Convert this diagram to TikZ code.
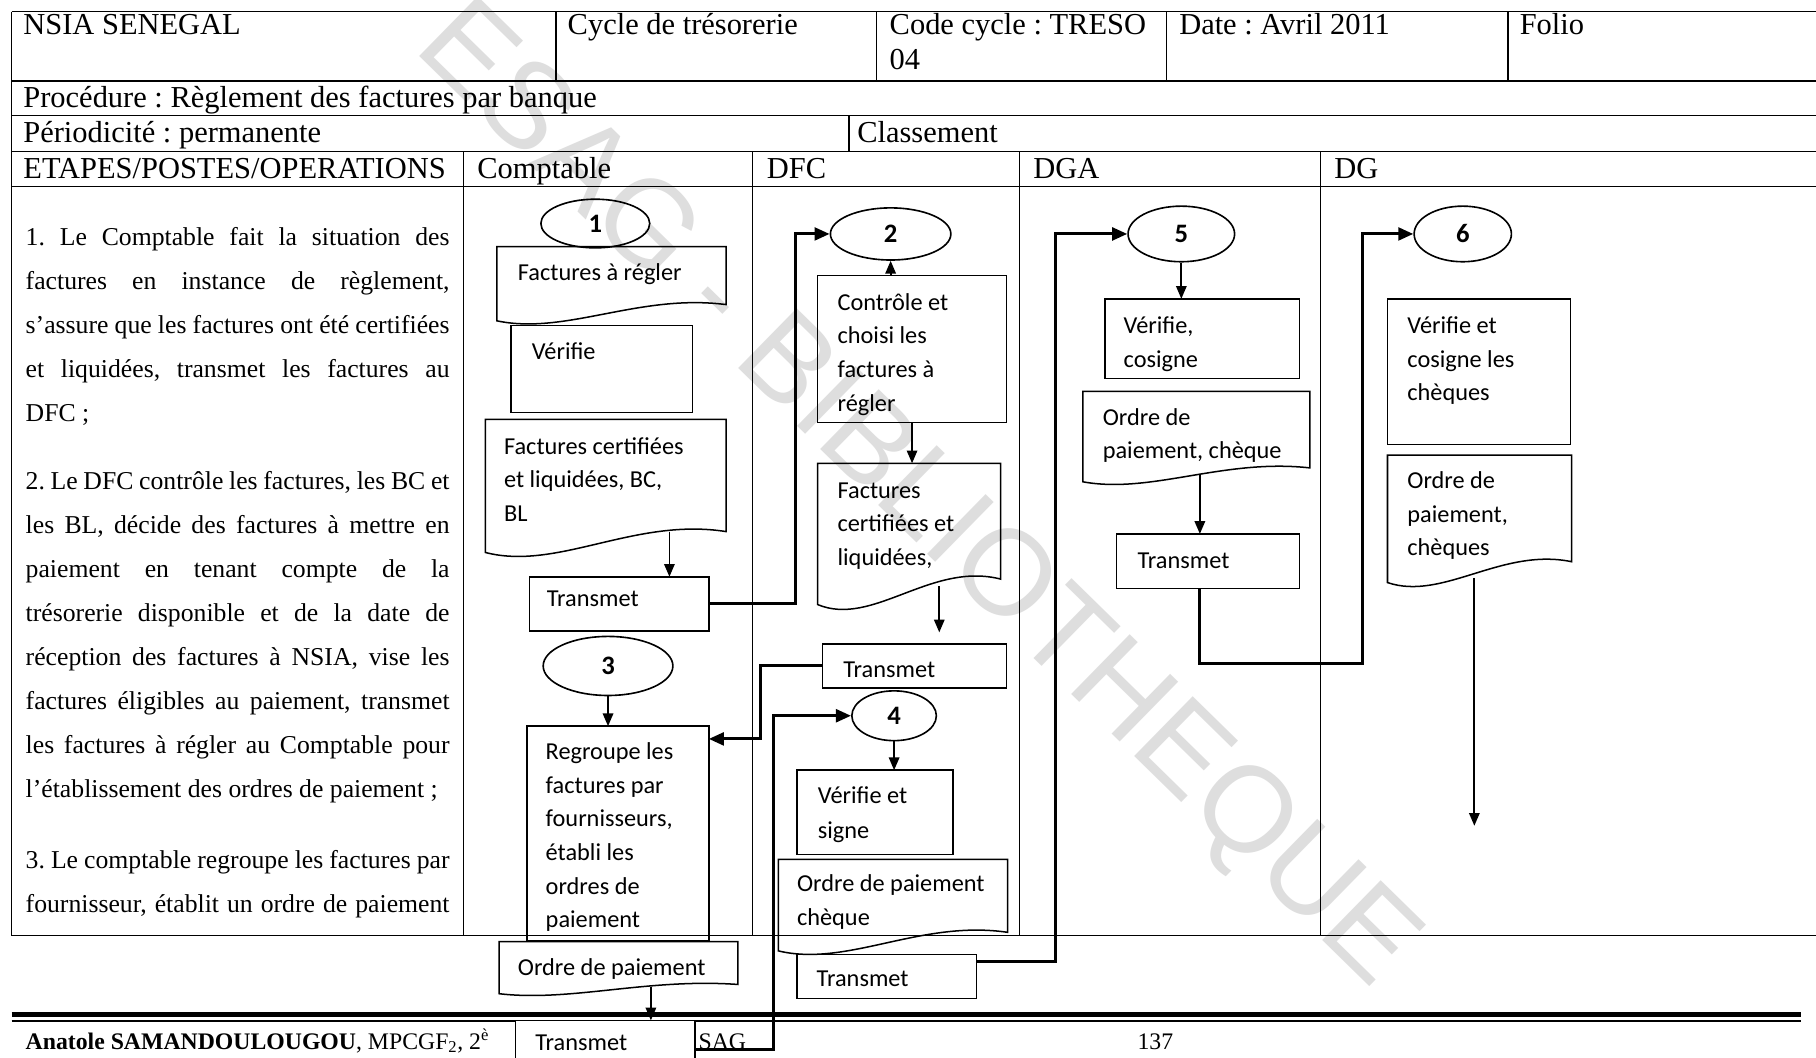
\documentclass[tikz,border=0pt]{standalone}
\usepackage{fontspec}
\setmainfont{Liberation Serif}
\newfontfamily\boxfont{Carlito}
\newfontfamily\wmfont{Liberation Sans}
\usetikzlibrary{shapes.geometric,arrows.meta,calc}
\frenchspacing

\definecolor{wmgray}{RGB}{222,222,222}

% multi-line cell text, aligned on the first baseline
\newcommand\tl[1]{\begin{tabular}[t]{@{}l@{}}#1\end{tabular}}
% one justified line of the step description
\newcommand\jl[1]{\makebox[366pt][s]{#1}}

\tikzset{
  grid/.style={line width=1.1pt, black},
  hdr/.style={font=\fontsize{26.3}{30}\selectfont, anchor=base west, inner sep=0pt},
  steptxt/.style={font=\fontsize{22.2}{38}\selectfont, anchor=base west, inner sep=0pt},
  pshape/.style={draw, line width=1.3pt, rectangle, inner sep=0pt, outer sep=0pt},
  dshape/.style={rectangle, inner sep=0pt, outer sep=0pt},
  docline/.style={line width=1.3pt, line join=miter},
  btxt/.style={font=\boxfont\fontsize{21}{29}\selectfont, anchor=base west, inner sep=0pt},
  stepnum/.style={draw, ellipse, line width=1.4pt, inner sep=0pt,
    font=\boxfont\bfseries\fontsize{23}{26}\selectfont},
  flow/.style={line width=2.6pt, -{Triangle[length=13pt,width=11pt]}},
  arr/.style={line width=1.5pt, -{Triangle[length=11pt,width=9pt]}},
  foot/.style={font=\fontsize{20.5}{24}\selectfont, anchor=base west, inner sep=0pt},
  wmark/.style={font=\wmfont\fontsize{105}{110}\selectfont, text=wmgray, inner sep=0pt},
}

% process box from its two corners
\newcommand\procbox[5]{%
  \node[pshape, anchor=north west, minimum width={(#4-#2)*1pt},
        minimum height={(#5-#3)*1pt}] (#1) at (#2,#3) {};}
% document box: wavy bottom, right end raised by #6
\newcommand\docbox[6]{%
  \node[dshape, anchor=north west, minimum width={(#4-#2)*1pt},
        minimum height={(#5-#3)*1pt}] (#1) at (#2,#3) {};
  \draw[docline] (#1.south west) -- (#1.north west) -- (#1.north east)
    -- ($(#1.south east)+(0,-#6)$)
    .. controls ($(#1.south west)!0.62!(#1.south east)+(0,-1.7*#6)$)
           and ($(#1.south west)!0.3!(#1.south east)+(0,0.9*#6)$)
    .. (#1.south west) -- cycle;}

\begin{document}
\begin{tikzpicture}[x=1pt,y=-1pt]
\useasboundingbox (0,0) rectangle (1568,913);
\fill[white] (0,0) rectangle (1568,913);
\clip (0,0) rectangle (1568,913);

% watermark
\node[wmark, rotate=-44.4] (wm) at (790,430) {ESAG - BIBLIOTHEQUE};

% ---- form grid ----
\draw[grid] (10,10) -- (1568,10);
\draw[grid] (10,70) -- (1568,70);
\draw[grid] (10,100) -- (1568,100);
\draw[grid] (10,131) -- (1568,131);
\draw[grid] (10,161) -- (1568,161);
\draw[grid] (10,808) -- (1568,808);
\draw[grid] (10,10) -- (10,808);
\foreach \x in {480,757,1007,1302} \draw[grid] (\x,10) -- (\x,70);
\draw[grid] (733,100) -- (733,131);
\foreach \x in {400,650,880,1140} \draw[grid] (\x,131) -- (\x,808);

% ---- header texts ----
\node[hdr] (h-org) at (20,30) {NSIA SENEGAL};
\node[hdr] (h-cycle) at (490,30) {Cycle de trésorerie};
\node[hdr] (h-code) at (768,30) {\tl{Code cycle : TRESO\\04}};
\node[hdr] (h-date) at (1018,30) {Date : Avril 2011};
\node[hdr] (h-folio) at (1312,30) {Folio};
\node[hdr] (h-proc) at (20,93) {Procédure : Règlement des factures par banque};
\node[hdr] (h-per) at (20,123) {Périodicité : permanente};
\node[hdr] (h-class) at (740,123) {Classement};
\node[hdr] (h-steps) at (20,154) {ETAPES/POSTES/OPERATIONS};
\node[hdr] (h-compt) at (412,154) {Comptable};
\node[hdr] (h-dfc) at (662,154) {DFC};
\node[hdr] (h-dga) at (892,154) {DGA};
\node[hdr] (h-dg) at (1152,154) {DG};

% ---- step descriptions ----
\node[steptxt] (p1) at (22,212) {\tl{%
  \jl{1. Le Comptable fait la situation des}\\
  \jl{factures en instance de règlement,}\\
  \jl{s’assure que les factures ont été certifiées}\\
  \jl{et liquidées, transmet les factures au}\\
  DFC ;}};
\node[steptxt] (p2) at (22,423) {\tl{%
  \jl{2. Le DFC contrôle les factures, les BC et}\\
  \jl{les BL, décide des factures à mettre en}\\
  \jl{paiement en tenant compte de la}\\
  \jl{trésorerie disponible et de la date de}\\
  \jl{réception des factures à NSIA, vise les}\\
  \jl{factures éligibles au paiement, transmet}\\
  \jl{les factures à régler au Comptable pour}\\
  l’établissement des ordres de paiement ;}};
\node[steptxt] (p3) at (22,750) {\tl{%
  \jl{3. Le comptable regroupe les factures par}\\
  \jl{fournisseur, établit un ordre de paiement}}};

% ---- Comptable lane ----
\node[stepnum, minimum width=94pt, minimum height=42pt] (e1) at (514,193) {1};
\docbox{docA}{429}{213}{627}{277}{14}
\node[btxt] (docA-t) at (447,242) {Factures à régler};
\procbox{verA}{441}{281}{598}{356}
\node[btxt] (verA-t) at (459,310) {Vérifie};
\docbox{docB}{419}{362}{627}{477}{18}
\node[btxt] (docB-t) at (435,392) {\tl{Factures certifiées\\et liquidées, BC,\\BL}};
\procbox{trA}{457}{498}{612}{545}
\node[btxt] (trA-t) at (472,524) {Transmet};
\node[stepnum, minimum width=112pt, minimum height=51pt] (e3) at (525,575) {3};
\procbox{reg}{455}{627}{612}{812}
\node[btxt] (reg-t) at (471,656) {\tl{Regroupe les\\factures par\\fournisseurs,\\établi les\\ordres de\\paiement}};
\docbox{docG}{431}{813}{637}{858}{8}
\node[btxt] (docG-t) at (447,842) {Ordre de paiement};

% ---- DFC lane ----
\node[stepnum, minimum width=104pt, minimum height=45pt] (e2) at (769,202) {2};
\procbox{contr}{706}{238}{869}{365}
\node[btxt] (contr-t) at (723,268) {\tl{Contrôle et\\choisi les\\factures à\\régler}};
\docbox{docC}{706}{400}{864}{522}{22}
\node[btxt] (docC-t) at (723,430) {\tl{Factures\\certifiées et\\liquidées,}};
\procbox{trB}{710}{556}{869}{594}
\node[btxt] (trB-t) at (728,585) {Transmet};
\node[stepnum, minimum width=73pt, minimum height=43pt] (e4) at (772,618) {4};
\procbox{verB}{688}{665}{823}{738}
\node[btxt, font=\boxfont\fontsize{21}{30}\selectfont] (verB-t) at (706,694) {\tl{Vérifie et\\signe}};
\docbox{docD}{672}{742}{870}{821}{16}
\node[btxt] (docD-t) at (688,770) {\tl{Ordre de paiement\\chèque}};
\procbox{trC}{688}{824}{843}{862}
\node[btxt] (trC-t) at (705,852) {Transmet};

% ---- DGA lane ----
\node[stepnum, minimum width=92pt, minimum height=48pt] (e5) at (1020,202) {5};
\procbox{verC}{954}{258}{1122}{327}
\node[btxt] (verC-t) at (970,288) {\tl{Vérifie,\\cosigne}};
\docbox{docE}{935}{338}{1131}{416}{12}
\node[btxt] (docE-t) at (952,367) {\tl{Ordre de\\paiement, chèque}};
\procbox{trD}{964}{461}{1122}{508}
\node[btxt] (trD-t) at (982,491) {Transmet};

% ---- DG lane ----
\node[stepnum, minimum width=84pt, minimum height=48pt] (e6) at (1263,202) {6};
\procbox{verD}{1198}{258}{1356}{384}
\node[btxt] (verD-t) at (1215,288) {\tl{Vérifie et\\cosigne les\\chèques}};
\docbox{docF}{1198}{393}{1357}{503}{18}
\node[btxt] (docF-t) at (1215,422) {\tl{Ordre de\\paiement,\\chèques}};

% ---- footer ----
\draw[line width=4pt] (10,876) -- (1555,876);
\draw[line width=1pt] (10,881.5) -- (1555,881.5);
\node[foot] (author) at (22,906) {\textbf{Anatole SAMANDOULOUGOU}, MPCGF\textsubscript{2}, 2\textsuperscript{è}};
\node[foot] (school) at (603,906) {SAG};
\node[foot] (page) at (982,906) {137};

% last Transmet box sits over the footer
\node[pshape, fill=white, anchor=north west, minimum width=155pt, minimum height=50pt] (trG) at (445,881) {};
\node[btxt] (trG-t) at (462,907) {Transmet};

% ---- short arrows inside lanes ----
\coordinate (aB) at ($(docB.south east)+(-49,-18)$);
\draw[arr] (aB) -- (aB |- trA.north);
\draw[arr] (e3.south) -- (e3.south |- reg.north);
\coordinate (aG) at ($(docG.south east)+(-75,-6)$);
\draw[arr] (aG) -- (aG |- trG.north);
\draw[arr] (e2.south |- contr.north) -- (e2.south);
\draw[arr] (contr.south) -- (contr.south |- docC.north);
\coordinate (aC) at ($(docC.south east)+(-53,-16)$);
\coordinate (aCe) at ($(aC)+(0,40)$);
\draw[arr] (aC) -- (aCe);
\draw[arr] (e4.south) -- (e4.south |- verB.north);
\draw[arr] (e5.south) -- (e5.south |- verC.north);
\coordinate (aE) at ($(docE.south east)+(-95,-7)$);
\draw[arr] (aE) -- (aE |- trD.north);
\coordinate (aF) at ($(docF.south east)+(-84,-4)$);
\coordinate (aFe) at (aF |- 0,713);
\draw[arr] (aF) -- (aFe);

% ---- hand-offs between lanes ----
\coordinate (j1) at (687,202);
\draw[flow] (trA.east) -| (j1) -- (e2.west);
\coordinate (j2) at (657,638);
\draw[flow] (trB.west) -| (j2) -- (j2 -| reg.east);
\coordinate (j3) at (668,618);
\draw[flow] (trG.east) -| (j3) -- (e4.west);
\coordinate (j4) at (911,202);
\draw[flow] ([yshift=-6pt]trC.north east) -| (j4) -- (e5.west);
\coordinate (j5) at (1176,573);
\draw[flow] ([xshift=-7pt]trD.south) |- (j5) |- (e6.west);
\end{tikzpicture}
\end{document}
